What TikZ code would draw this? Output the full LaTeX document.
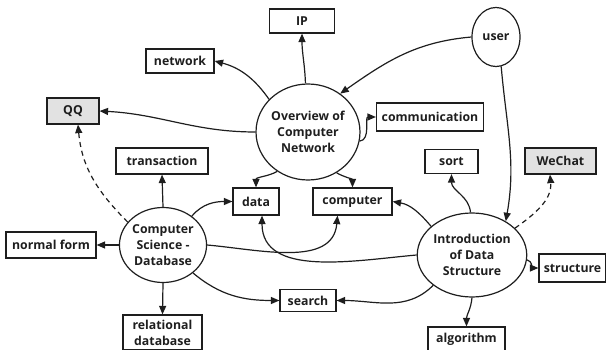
\documentclass[tikz,border=0pt]{standalone}
\usepackage{fontspec}
\setmainfont{Open Sans}
\usetikzlibrary{shapes.geometric,arrows.meta}
\definecolor{boxgray}{HTML}{E2E2E2}
\definecolor{ink}{HTML}{1E1E1E}
\begin{document}
\begin{tikzpicture}[x=1pt,y=-1pt,
  every node/.style={font=\bfseries\fontsize{12.3}{16}\selectfont, inner sep=0pt, align=center, text=ink},
  box/.style={draw=ink, line width=1.2pt, rectangle},
  gbox/.style={box, fill=boxgray},
  ell/.style={draw=ink, line width=1.2pt, ellipse},
  arr/.style={draw=ink, line width=1.2pt, -{Triangle[length=8.5pt,width=7pt]}},
  darr/.style={arr, dash pattern=on 5pt off 4pt}
]
\useasboundingbox (0,0) rectangle (606,350);

% circles
\node[ell, minimum width=100, minimum height=96] (ov) at (308,132) {Overview of\\Computer\\Network};
\node[ell, minimum width=48, minimum height=59] (user) at (496,37) {user};
\node[ell, minimum width=75, minimum height=75] (csd) at (163,245) {Computer\\Science -\\Database};
\node[ell, minimum width=93, minimum height=84] (intro) at (472,255) {Introduction\\of Data\\Structure};

% boxes
\node[box, minimum width=65, minimum height=24] (ip) at (302,21) {IP};
\node[box, minimum width=68, minimum height=24] (net) at (180,61) {network};
\node[gbox, minimum width=52, minimum height=26] (qq) at (73,111) {QQ};
\node[box, minimum width=92, minimum height=26] (trans) at (162,161) {transaction};
\node[box, minimum width=107, minimum height=28] (comm) at (430,117) {communication};
\node[box, minimum width=53, minimum height=24] (sort) at (451.5,161.5) {sort};
\node[gbox, minimum width=71, minimum height=26] (wechat) at (560.5,161) {WeChat};
\node[box, minimum width=46, minimum height=27] (data) at (256,201.5) {data};
\node[box, minimum width=79, minimum height=27] (comp) at (352.5,201.5) {computer};
\node[box, minimum width=90, minimum height=26] (nf) at (51,245) {normal form};
\node[box, minimum width=79, minimum height=35] (rel) at (162.5,332.5) {relational\\database};
\node[box, minimum width=56, minimum height=22] (search) at (308,300.5) {search};
\node[box, minimum width=67, minimum height=28] (struct) at (572.5,268) {structure};
\node[box, minimum width=77, minimum height=25] (alg) at (466.5,339.5) {algorithm};

% edges from Overview
\draw[arr] (ov.93) to[out=92,in=-90] (ip.south);
\draw[arr] (ov.140) to[out=125,in=-15] (net.east);
\draw[arr] (ov.west) to[out=180,in=-3] (qq.east);
\draw[arr] (user.west) to[out=185,in=35] (ov.50);
\draw[arr] (ov.-10) to[out=5,in=180] (comm.west);
\draw[arr] (ov.232) to[out=210,in=90] (data.north);
\draw[arr] (ov.305) to[out=-30,in=90] (comp.north);

% edges from CSD
\draw[arr] (csd.north) -- (trans.south);
\draw[darr] (csd.147) to[out=135,in=-85] ([xshift=5pt]qq.south);
\draw[arr] (csd.west) -- (nf.east);
\draw[arr] (csd.south) -- (rel.north);
\draw[arr] (csd.45) to[out=50,in=180] (data.west);
\draw[arr] (csd.east) to[out=-5,in=-95] ([xshift=-15pt]comp.south);
\draw[arr] (csd.-43) to[out=-40,in=180] (search.west);

% edges from Intro
\draw[arr] (intro.west) to[out=185,in=-90] ([xshift=6pt]data.south);
\draw[arr] (intro.145) to[out=130,in=-10] (comp.east);
\draw[arr] (intro.92) to[out=95,in=-90] (sort.south);
\draw[arr] (user.-80) to[out=-85,in=80] (intro.45);
\draw[darr] (intro.32) to[out=35,in=-85] ([xshift=-10.5pt]wechat.south);
\draw[arr] (intro.-5) to[out=-15,in=180] (struct.west);
\draw[arr] (intro.south) to[out=-95,in=90] (alg.north);
\draw[arr] (intro.218) to[out=-135,in=0] (search.east);
\end{tikzpicture}
\end{document}
